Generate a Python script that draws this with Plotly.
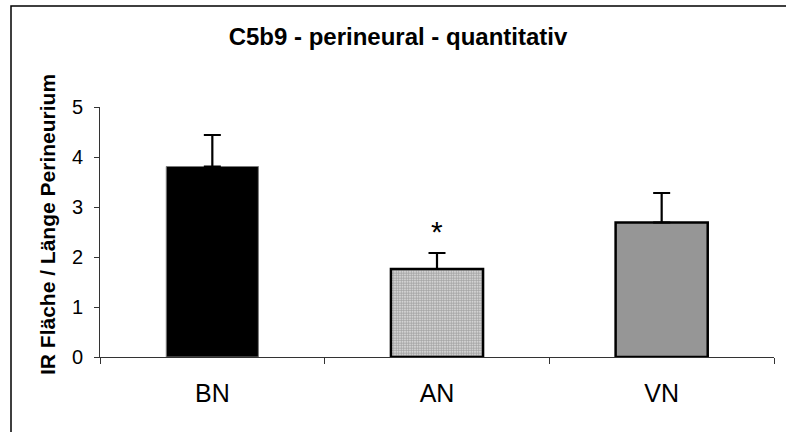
import plotly.graph_objects as go

categories = ["BN", "AN", "VN"]
means = [3.81, 1.76, 2.69]
errors_plus = [0.63, 0.32, 0.59]
y_ticks = [0, 1, 2, 3, 4, 5]
title_text = "C5b9 - perineural - quantitativ"
y_title = "IR Fläche / Länge Perineurium"
sig_label = "*"
sig_category = "AN"
sig_y = 2.6

W, H = 786, 432
L, R, T, B = 100, 12, 107, 75
pw, ph = W - L - R, H - T - B

def px_x(p):
    return (p - L) / pw

def px_y(p):
    return (H - B - p) / ph

fig = go.Figure()
fig.add_trace(go.Bar(
    x=categories,
    y=means,
    width=0.41,
    marker=dict(
        color=["#000000", "#ffffff", "#969696"],
        line=dict(color=["#7a7a7a", "#000000", "#000000"], width=[1, 2.5, 2.5]),
        pattern=dict(shape=["", ".", ""], fgcolor="#1a1a1a", bgcolor="#ffffff",
                     size=2.5, solidity=0.75, fillmode="overlay"),
    ),
    error_y=dict(type="data", symmetric=False, array=errors_plus,
                 arrayminus=[0, 0, 0], color="#000000", thickness=2.2, width=8.5),
    showlegend=False,
))

fig.add_annotation(x=sig_category, y=sig_y, text=sig_label, showarrow=False,
                   font=dict(family="Liberation Sans", size=30, color="#000"),
                   yanchor="middle", yshift=-4)

fig.add_annotation(xref="paper", yref="paper", x=px_x(47), y=px_y(225),
                   text="<b>" + y_title + "</b>", textangle=-90, showarrow=False,
                   font=dict(family="Liberation Sans", size=21, color="#000"),
                   xanchor="center", yanchor="middle")

fig.add_shape(type="rect", xref="paper", yref="paper",
              x0=px_x(11), x1=px_x(820), y0=px_y(470), y1=px_y(6),
              line=dict(color="#000000", width=1.5), fillcolor="rgba(0,0,0,0)",
              layer="below")

fig.update_layout(
    width=W, height=H,
    margin=dict(l=L, r=R, t=T, b=B),
    paper_bgcolor="white", plot_bgcolor="white",
    title=dict(text="<b>" + title_text + "</b>", x=398 / W, xref="container",
               xanchor="center", y=1 - 37 / H, yref="container", yanchor="middle",
               font=dict(family="Liberation Sans", size=24, color="#000")),
    font=dict(family="Liberation Sans", color="#000"),
    bargap=0.59,
)
fig.update_xaxes(
    type="category", tickson="boundaries", ticks="outside", ticklen=6,
    tickcolor="#333", tickwidth=1, showline=True, linecolor="#333", linewidth=1,
    showgrid=False, zeroline=False, tickfont=dict(size=25), ticklabelstandoff=14,
    range=[-0.5, 2.5],
)
fig.update_yaxes(
    range=[0, 5], tickvals=y_ticks, ticks="outside", ticklen=5, tickcolor="#333",
    showline=True, linecolor="#333", linewidth=1, showgrid=False, zeroline=False,
    tickfont=dict(size=20), ticklabelstandoff=7,
)

fig.write_html("out.html")
